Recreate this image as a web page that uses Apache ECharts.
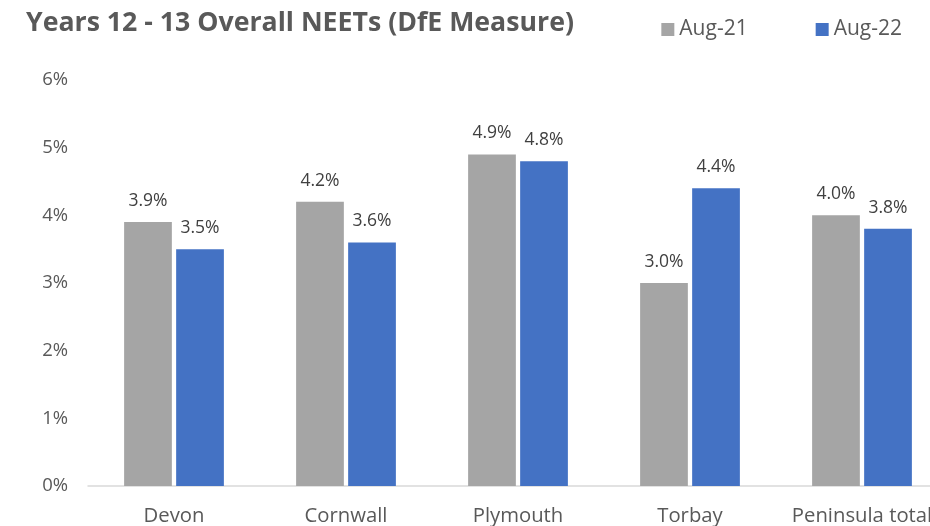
<!DOCTYPE html>
<html>
<head>
<meta charset="utf-8">
<script src="https://cdn.jsdelivr.net/npm/echarts@6/dist/echarts.min.js"></script>
<style>
  html, body { margin: 0; padding: 0; background: #fff; }
  #chart { width: 930px; height: 526px; }
</style>
</head>
<body>
<div id="chart"></div>
<script>
// Share of young people (Years 12-13) who are NEET, by local authority
const categories = ['Devon', 'Cornwall', 'Plymouth', 'Torbay', 'Peninsula total'];
const aug21 = [3.9, 4.2, 4.9, 3.0, 4.0];
const aug22 = [3.5, 3.6, 4.8, 4.4, 3.8];
const yTicks = [0, 1, 2, 3, 4, 5, 6];

const FONT = '"Open Sans", "Noto Sans", sans-serif';

const chart = echarts.init(document.getElementById('chart'), null, { renderer: 'canvas' });

const labelStyle = {
  show: true,
  position: 'top',
  distance: 12,
  color: '#404040',
  fontSize: 17.5,
  fontFamily: FONT,
  formatter: p => p.value.toFixed(1) + '%'
};

chart.setOption({
  animation: false,
  backgroundColor: '#ffffff',
  title: {
    text: 'Years 12 - 13 Overall NEETs (DfE Measure)',
    left: 21,
    top: 5,
    textStyle: { fontFamily: FONT, fontSize: 26.7, fontWeight: 'bold', color: '#595959' }
  },
  legend: {
    right: 23,
    top: 14,
    itemWidth: 13,
    itemHeight: 13,
    itemGap: 68,
    icon: 'rect',
    textStyle: { fontFamily: FONT, fontSize: 21, color: '#595959' },
    data: ['Aug-21', 'Aug-22']
  },
  // plot area runs slightly past the right edge of the canvas
  grid: { left: 88, top: 80, width: 860, bottom: 40, outerBoundsMode: 'none', containLabel: false },
  xAxis: {
    type: 'category',
    data: categories,
    axisLine: { lineStyle: { color: '#d9d9d9', width: 1.5 } },
    axisTick: { show: false },
    axisLabel: {
      color: '#595959', fontSize: 20.3, fontFamily: FONT, margin: 20,
      interval: 0, hideOverlap: false
    }
  },
  yAxis: {
    type: 'value',
    min: yTicks[0],
    max: yTicks[yTicks.length - 1],
    interval: 1,
    splitLine: { show: false },
    axisLine: { show: false },
    axisTick: { show: false },
    axisLabel: {
      color: '#595959', fontSize: 18.5, fontFamily: FONT, margin: 20,
      formatter: v => v + '%'
    }
  },
  series: [
    {
      name: 'Aug-21',
      type: 'bar',
      data: aug21,
      barGap: '9%',
      barCategoryGap: '42%',
      itemStyle: { color: '#a5a5a5' },
      label: labelStyle
    },
    {
      name: 'Aug-22',
      type: 'bar',
      data: aug22,
      itemStyle: { color: '#4472c4' },
      label: labelStyle
    }
  ]
});
</script>
</body>
</html>
